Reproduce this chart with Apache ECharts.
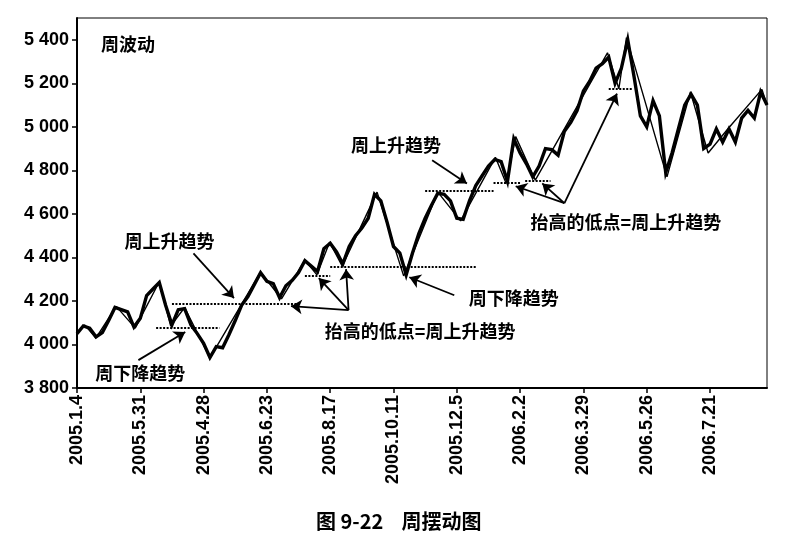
<!DOCTYPE html>
<html>
<head>
<meta charset="utf-8">
<script src="https://cdn.jsdelivr.net/npm/echarts@6/dist/echarts.min.js"></script>
<style>
html, body { margin: 0; padding: 0; background: #fff; }
#chart { width: 810px; height: 537px; }
</style>
</head>
<body>
<div id="chart"></div>
<script>
// tick labels as printed in the book (one every 10 points)
var tickLabels = ['2005.1.4', '2005.5.31', '2005.4.28', '2005.6.23', '2005.8.17', '2005.10.11',
    '2005.12.5', '2006.2.2', '2006.3.29', '2006.5.26', '2006.7.21'];
var tickStep = 10;

// price
var closes = [
    4050, 4085, 4075, 4035, 4055, 4110, 4170, 4160, 4150, 4080,
    4120, 4225, 4255, 4285, 4180, 4090, 4160, 4165, 4090, 4050,
    4005, 3940, 3990, 3985, 4045, 4110, 4180, 4220, 4275, 4330,
    4290, 4280, 4215, 4270, 4295, 4330, 4385, 4360, 4335, 4440,
    4465, 4425, 4370, 4450, 4500, 4535, 4580, 4690, 4660, 4560,
    4450, 4420, 4320, 4420, 4510, 4580, 4640, 4695, 4690, 4660,
    4580, 4575, 4660, 4730, 4775, 4820, 4850, 4840, 4750, 4945,
    4880, 4830, 4770, 4820, 4900, 4895, 4870, 4980, 5020, 5075,
    5165, 5210, 5270, 5290, 5320, 5200, 5270, 5400, 5230, 5050,
    5000, 5120, 5050, 4790, 4880, 4990, 5100, 5150, 5100, 4900,
    4920, 4990, 4930, 4990, 4930, 5040, 5075, 5040, 5160, 5100
];

// weekly swing line: [point index, level]
var swingPoints = [
    [0, 4050], [1.2, 4090], [3, 4030], [6.2, 4175], [9.2, 4075], [13, 4288], [14.8, 4085],
    [17, 4170], [21, 3938], [29, 4332], [32.3, 4210], [36, 4388], [37.9, 4320], [39.9, 4470],
    [41.9, 4360], [47.4, 4700], [51.6, 4315], [57, 4700], [60.6, 4568], [66.1, 4860],
    [67.8, 4740], [69.3, 4955], [72.4, 4755], [83.8, 5340], [85.6, 5175], [86.8, 5410],
    [93.2, 4770], [96.9, 5160], [99.7, 4880], [102.8, 4990], [108.2, 5172], [109, 5100]
];

// dotted support levels: [from index, to index, level]
var supportLines = [
    [12.5, 22.5, 4075], [15, 35, 4185], [36, 40, 4316], [40, 63, 4357],
    [55, 65.8, 4707], [65.8, 70, 4743], [70.8, 74.8, 4752], [84, 87.7, 5174]
];

var notes = [
    { text: '周上升趋势', at: [14.6, 4474] },
    { text: '周下降趋势', at: [10.0, 3866] },
    { text: '抬高的低点=周上升趋势', at: [54.2, 4061] },
    { text: '周下降趋势', at: [69.0, 4215] },
    { text: '周上升趋势', at: [50.4, 4915] },
    { text: '抬高的低点=周上升趋势', at: [86.7, 4561] }
];

var arrows = [
    [[18.4, 4419], [24.8, 4213]],
    [[9.7, 3928], [17.1, 4057]],
    [[42.9, 4158], [33.8, 4176]],
    [[42.9, 4158], [38.2, 4305]],
    [[42.9, 4158], [42.5, 4346]],
    [[59.6, 4226], [52.5, 4309]],
    [[56.1, 4846], [61.6, 4740]],
    [[77.0, 4649], [69.3, 4727]],
    [[77.0, 4649], [73.5, 4740]],
    [[77.0, 4649], [85.3, 5153]]
];

var numFont = '"Liberation Sans", Arial, sans-serif';
var cjkFont = '"Noto Sans CJK SC", sans-serif';

var categories = closes.map(function(v, i) {
    return i % tickStep === 0 ? tickLabels[i / tickStep] : '';
});

function onTick(i) {
    return i % tickStep === 0;
}

var chart = echarts.init(document.getElementById('chart'));

chart.setOption({
    animation: false,
    backgroundColor: '#fff',
    title: [{
        text: '周波动', left: 96, top: 30,
        textStyle: { fontFamily: cjkFont, fontSize: 18, fontWeight: 'bold', color: '#000' }
    }, {
        text: '图 9-22    周摆动图', left: 311, top: 506,
        textStyle: { fontFamily: cjkFont, fontSize: 20, fontWeight: 'bold', color: '#000' }
    }],
    grid: {
        left: 77, right: 43, top: 18, bottom: 149,
        show: true, borderColor: '#000', borderWidth: 1
    },
    xAxis: [{
        type: 'category',
        data: categories,
        boundaryGap: false,
        axisLine: { lineStyle: { color: '#000', width: 2 } },
        axisTick: { interval: onTick, length: 5, lineStyle: { color: '#000', width: 1.5 } },
        axisLabel: {
            interval: onTick, rotate: 90, margin: 7,
            fontFamily: numFont, fontSize: 18, fontWeight: 'bold', color: '#000'
        },
        splitLine: { show: false }
    }, {
        type: 'value', min: 0, max: closes.length - 1, show: false
    }],
    yAxis: {
        type: 'value', min: 3800, max: 5500, interval: 200,
        axisLine: { show: true, lineStyle: { color: '#000', width: 2 } },
        axisTick: { show: true, length: 5, lineStyle: { color: '#000', width: 1.5 } },
        splitLine: { show: false },
        axisLabel: {
            showMaxLabel: false, margin: 8,
            fontFamily: numFont, fontSize: 18, fontWeight: 'bold', color: '#000',
            formatter: function(v) {
                return Math.floor(v / 1000) + ' ' + String(v % 1000).padStart(3, '0');
            }
        }
    },
    series: [{
        type: 'line',
        data: closes,
        symbol: 'none',
        lineStyle: { color: '#000', width: 3.4, join: 'miter' },
        z: 3
    }, {
        type: 'line',
        xAxisIndex: 1,
        data: swingPoints,
        symbol: 'none',
        lineStyle: { color: '#000', width: 1.4 },
        z: 4
    }, {
        type: 'line',
        xAxisIndex: 1,
        data: [],
        markLine: {
            silent: true,
            symbol: 'none',
            label: { show: false },
            lineStyle: { color: '#000', width: 2, type: [2, 1.5] },
            data: supportLines.map(function(s) {
                return [{ coord: [s[0], s[2]] }, { coord: [s[1], s[2]] }];
            })
        }
    }, {
        type: 'line',
        xAxisIndex: 1,
        data: [],
        markLine: {
            silent: true,
            symbol: ['none', 'arrow'],
            symbolSize: 11,
            label: { show: false },
            lineStyle: { color: '#000', width: 1.8, type: 'solid' },
            data: arrows.map(function(a) {
                return [{ coord: a[0] }, { coord: a[1] }];
            })
        },
        markPoint: {
            silent: true,
            symbol: 'circle',
            symbolSize: 1,
            itemStyle: { color: 'rgba(0,0,0,0)' },
            label: {
                show: true, position: 'inside', color: '#000',
                fontFamily: cjkFont, fontSize: 18, fontWeight: 'bold',
                formatter: function(p) { return p.name; }
            },
            data: notes.map(function(n) {
                return { name: n.text, coord: n.at };
            })
        }
    }]
});
</script>
</body>
</html>
